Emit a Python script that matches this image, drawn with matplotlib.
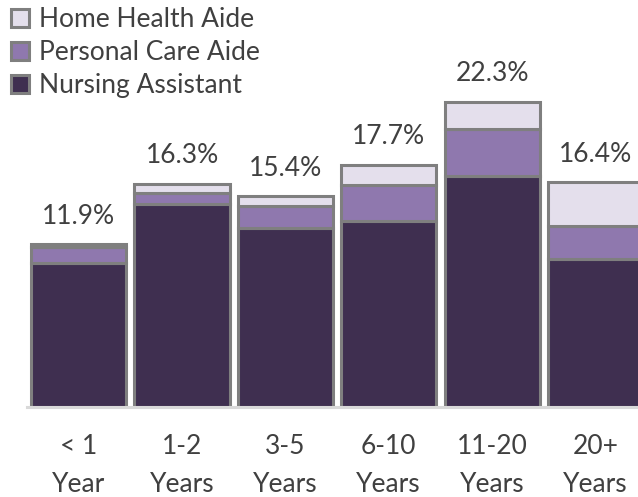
import matplotlib.pyplot as plt
from matplotlib.patches import Patch
import numpy as np

plt.rcParams['font.family'] = ['Lato', 'DejaVu Sans']

categories = ['< 1\nYear', '1-2\nYears', '3-5\nYears', '6-10\nYears', '11-20\nYears', '20+\nYears']
nursing = [10.5, 14.8, 13.1, 13.6, 16.9, 10.8]
personal = [1.2, 0.8, 1.6, 2.6, 3.4, 2.4]
home_health = [0.2, 0.7, 0.7, 1.5, 2.0, 3.2]
totals = [11.9, 16.3, 15.4, 17.7, 22.3, 16.4]

c_dark = '#3f2f50'
c_mid = '#8f78ae'
c_light = '#e4dfec'
edge = '#7f7f7f'
txt = '#404040'

fig = plt.figure(figsize=(6.38, 4.97), dpi=100)
ax = fig.add_axes([0.0423, 0.181, 0.972, 0.689])

x = np.arange(len(categories))
w = 0.92
nursing = np.array(nursing)
personal = np.array(personal)
home_health = np.array(home_health)

ax.bar(x, nursing, w, color=c_dark, edgecolor=edge, linewidth=2.2)
ax.bar(x, personal, w, bottom=nursing, color=c_mid, edgecolor=edge, linewidth=2.2)
ax.bar(x, home_health, w, bottom=nursing + personal, color=c_light, edgecolor=edge, linewidth=2.2)

top = nursing + personal + home_health
for xi, ti, lab in zip(x, top, totals):
    ax.annotate(f'{lab:.1f}%', (xi, ti), xytext=(0, 11), textcoords='offset points',
                ha='center', va='bottom', fontsize=19, color=txt)

ax.set_xlim(-0.5, 5.5)
ax.set_ylim(0, 25)
ax.set_xticks(x)
ax.set_xticklabels(categories, fontsize=19, color=txt, linespacing=1.66)
ax.tick_params(axis='x', length=0, pad=19.5)
ax.set_yticks([])
for s in ['top', 'right', 'left']:
    ax.spines[s].set_visible(False)
ax.spines['bottom'].set_color('#d9d9d9')
ax.spines['bottom'].set_linewidth(2.2)

# legend in the top left corner
handles = [Patch(facecolor=c_light, edgecolor=edge, linewidth=2.2, label='Home Health Aide'),
           Patch(facecolor=c_mid, edgecolor=edge, linewidth=2.2, label='Personal Care Aide'),
           Patch(facecolor=c_dark, edgecolor=edge, linewidth=2.2, label='Nursing Assistant')]
leg = fig.legend(handles=handles, loc='upper left', bbox_to_anchor=(0.0, 1.007), frameon=False,
                 fontsize=19, handlelength=0.68, handleheight=0.68, handletextpad=0.38,
                 labelspacing=0.3, borderaxespad=0.2, borderpad=0.2)
for t in leg.get_texts():
    t.set_color(txt)

fig.savefig('out.png', dpi=100)
